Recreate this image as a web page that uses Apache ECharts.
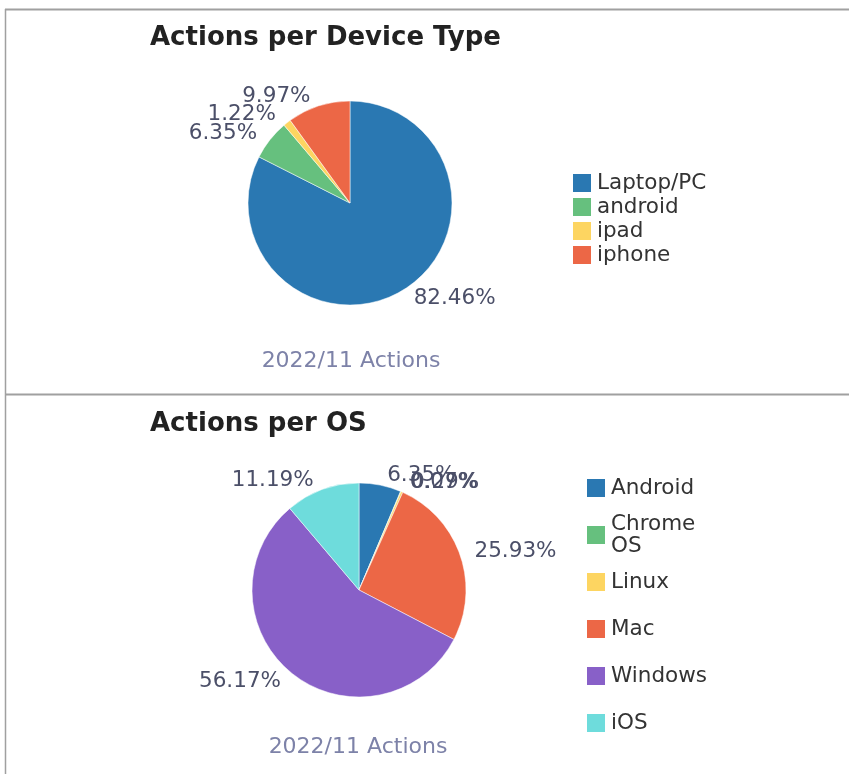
<!DOCTYPE html>
<html>
<head>
<meta charset="utf-8">
<script src="https://cdn.jsdelivr.net/npm/echarts@6/dist/echarts.min.js"></script>
<style>
  html, body { margin: 0; padding: 0; background: #fff; }
  #main { width: 849px; height: 774px; }
</style>
</head>
<body>
<div id="main"></div>
<script>
// top chart: actions per device type
var deviceNames = ['Laptop/PC', 'android', 'ipad', 'iphone'];
var deviceValues = [82.46, 6.35, 1.22, 9.97];
var deviceColors = ['#2a78b2', '#66c07e', '#fdd561', '#ec6746'];

// bottom chart: actions per OS
var osNames = ['Android', 'Chrome OS', 'Linux', 'Mac', 'Windows', 'iOS'];
var osValues = [6.35, 0.07, 0.29, 25.93, 56.17, 11.19];
var osColors = ['#2a78b2', '#66c07e', '#fdd561', '#ec6746', '#8860c8', '#6edcdc'];

var fontFam = 'DejaVu Sans';

function toData(names, values, colors) {
  var out = [];
  for (var i = 0; i < names.length; i++) {
    out.push({ name: names[i], value: values[i], itemStyle: { color: colors[i] } });
  }
  return out;
}

function pieSeries(name, center, radius, data) {
  return {
    name: name,
    type: 'pie',
    center: center,
    radius: radius,
    startAngle: 90,
    clockwise: true,
    avoidLabelOverlap: false,
    minShowLabelAngle: 0,
    data: data,
    itemStyle: { borderColor: '#fff', borderWidth: 0.5 },
    label: {
      show: true,
      position: 'outside',
      formatter: function (p) { return p.value.toFixed(2) + '%'; },
      fontFamily: fontFam,
      fontSize: 21.5,
      color: '#4b4f68',
      distanceToLabelLine: 5
    },
    labelLine: { show: false, length: 10, length2: 0 },
    labelLayout: { hideOverlap: false },
    emphasis: { scale: false }
  };
}

var myChart = echarts.init(document.getElementById('main'));
var option = {
  animation: false,
  title: [
    { text: 'Actions per Device Type', left: 145, top: 20,
      textStyle: { fontFamily: fontFam, fontSize: 26, fontWeight: 'bold', color: '#222' } },
    { text: 'Actions per OS', left: 145, top: 406,
      textStyle: { fontFamily: fontFam, fontSize: 26, fontWeight: 'bold', color: '#222' } },
    { text: '2022/11 Actions', left: 346, top: 345, textAlign: 'center',
      textStyle: { fontFamily: fontFam, fontSize: 22, fontWeight: 'normal', color: '#7d82a8' } },
    { text: '2022/11 Actions', left: 353, top: 731, textAlign: 'center',
      textStyle: { fontFamily: fontFam, fontSize: 22, fontWeight: 'normal', color: '#7d82a8' } }
  ],
  legend: [
    {
      data: deviceNames,
      orient: 'vertical',
      left: 566,
      top: 167,
      itemWidth: 20,
      itemHeight: 20,
      itemGap: 2,
      icon: 'rect',
      textStyle: { fontFamily: fontFam, fontSize: 21.5, color: '#333' }
    },
    {
      data: osNames,
      orient: 'vertical',
      left: 580,
      top: 461,
      itemWidth: 20,
      itemHeight: 20,
      itemGap: 3,
      icon: 'rect',
      formatter: function (name) { return name.replace(' ', '\n'); },
      textStyle: { fontFamily: fontFam, fontSize: 21.5, color: '#333', lineHeight: 22, height: 44 }
    }
  ],
  graphic: [
    { type: 'line', shape: { x1: 5, y1: 9.5, x2: 849, y2: 9.5 }, style: { stroke: '#a0a0a0', lineWidth: 2 } },
    { type: 'line', shape: { x1: 5, y1: 394.5, x2: 849, y2: 394.5 }, style: { stroke: '#a0a0a0', lineWidth: 2 } },
    { type: 'line', shape: { x1: 5.5, y1: 9, x2: 5.5, y2: 774 }, style: { stroke: '#a0a0a0', lineWidth: 1.5 } }
  ],
  series: [
    pieSeries('Device Type', [350, 203], 102, toData(deviceNames, deviceValues, deviceColors)),
    pieSeries('OS', [359, 590], 107, toData(osNames, osValues, osColors))
  ]
};
option && myChart.setOption(option);
</script>
</body>
</html>
